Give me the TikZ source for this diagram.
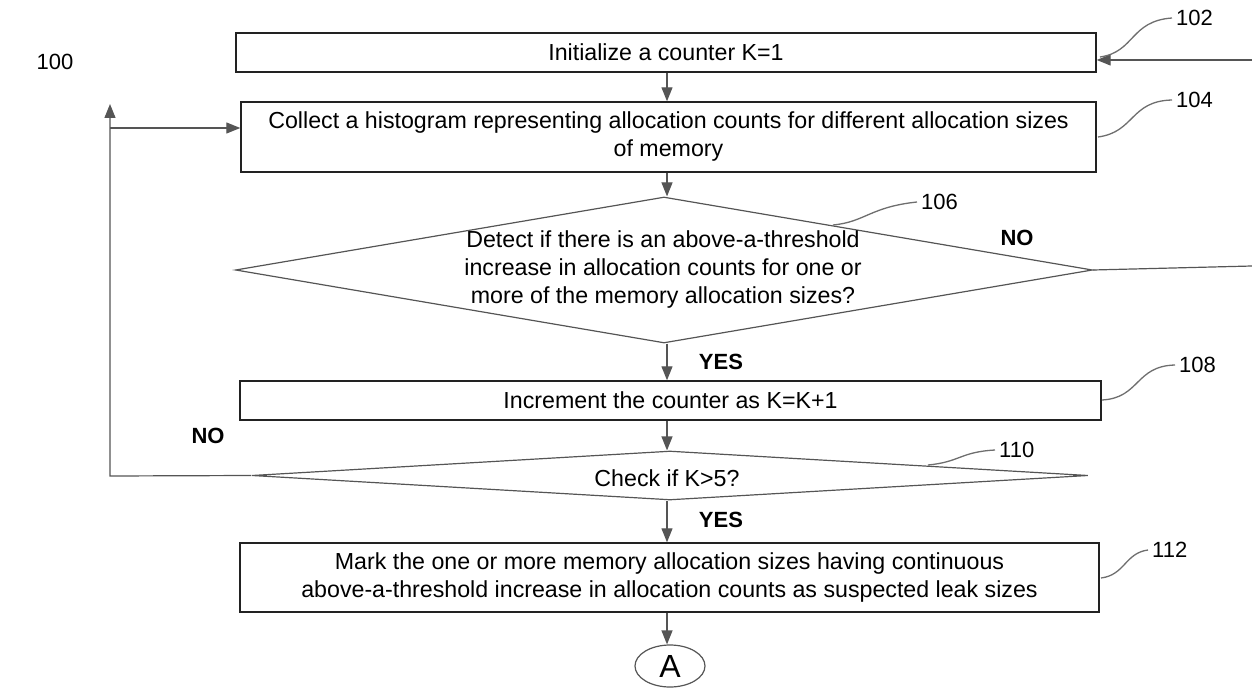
\documentclass[tikz,border=0pt]{standalone}
\usepackage{fontspec}
\setmainfont{Liberation Sans}
\usetikzlibrary{arrows.meta,shapes.geometric}
\definecolor{ln}{HTML}{555555}
\definecolor{bx}{HTML}{222222}
\tikzset{
  box/.style={draw=bx, line width=1.4pt, inner sep=0pt, align=center, font=\fontsize{23.2}{28}\selectfont},
  dia/.style={diamond, draw=ln, line width=1.2pt, inner sep=0pt},
  txt/.style={inner sep=0pt, align=center, font=\fontsize{23.2}{28}\selectfont},
  lbl/.style={inner sep=0pt, anchor=west, font=\fontsize{22}{26}\selectfont},
  yn/.style={inner sep=0pt, font=\fontsize{22}{26}\selectfont\bfseries},
  conn/.style={draw=ln, line width=1.2pt},
  arr/.style={conn, -{Triangle[length=14pt,width=11pt,fill=ln]}},
  leader/.style={draw=ln!85, line width=1.3pt},
}
\begin{document}
\begin{tikzpicture}[x=1pt,y=-1pt]
\useasboundingbox (0,0) rectangle (1252,700);
\coordinate (ax) at (667,0);

% boxes
\node[box, minimum width=860pt, minimum height=39pt] (b102) at (666,52.5) {Initialize a counter K=1};
\node[box, minimum width=855pt, minimum height=70pt] (b104) at (668.5,137) {Collect a histogram representing allocation counts for different allocation sizes\\of memory};
\node[dia, minimum width=857pt, minimum height=146pt] (d106) at (664,270) {};
\node[txt] (t106) at (663,270) {Detect if there is an above-a-threshold\\increase in allocation counts for one or\\more of the memory allocation sizes?};
\node[box, minimum width=861pt, minimum height=39pt] (b108) at (670.5,400.5) {Increment the counter as K=K+1};
\node[dia, minimum width=836pt, minimum height=49pt] (d110) at (670,475.5) {};
\node[txt] (t110) at (667,478) {Check if K>5?};
\node[box, minimum width=859pt, minimum height=69pt] (b112) at (669.5,577.5) {Mark the one or more memory allocation sizes having continuous\\above-a-threshold increase in allocation counts as suspected leak sizes};
\node[ellipse, draw=ln, line width=1.2pt, minimum width=70pt, minimum height=42pt, inner sep=0pt, font=\fontsize{32}{34}\selectfont] (A) at (670,666) {A};

% vertical connectors
\draw[arr] (b102.south -| ax) -- (b104.north -| ax);
\draw[arr] (b104.south -| ax) -- (d106.north -| ax);
\draw[arr] (d106.south -| ax) -- (b108.north -| ax);
\draw[arr] (b108.south -| ax) -- (d110.north -| ax);
\draw[arr] (d110.south -| ax) -- (b112.north -| ax);
\draw[arr] (b112.south -| ax) -- (A.north -| ax);

% NO loop from 110 back to 104
\coordinate (c1) at (110,476);
\coordinate (c2) at (110,104);
\coordinate (c3) at (110,128);
\draw[arr] (d110.west) -- (c1) -- (c2);
\draw[arr] (c3) -- (c3 -| b104.west);

% right side connectors
\coordinate (r1) at (1252,60);
\coordinate (r2) at (1252,266);
\draw[arr] (r1) -- (r1 -| b102.east);
\draw[conn] (d106.east) -- (r2);

% YES / NO labels
\node[yn] (no1) at (1017,238) {NO};
\node[yn] (yes1) at (721,362) {YES};
\node[yn] (no2) at (208,436) {NO};
\node[yn] (yes2) at (721,520) {YES};

% reference numerals
\node[txt, font=\fontsize{22}{26}\selectfont] (n100) at (55,62) {100};
\node[lbl] (n102) at (1176,18) {102};
\node[lbl] (n104) at (1176,100) {104};
\node[lbl] (n106) at (921,202) {106};
\node[lbl] (n108) at (1179,365) {108};
\node[lbl] (n110) at (999,450) {110};
\node[lbl] (n112) at (1152,550) {112};

\coordinate (s102) at (1100,57);
\coordinate (s104) at (1098,137);
\coordinate (s106) at (833,225);
\coordinate (s108) at (1102,400);
\coordinate (s110) at (928,465);
\coordinate (s112) at (1101,578);
\draw[leader] (s102) .. controls (1135,52) and (1130,21) .. ([xshift=-4pt]n102.west);
\draw[leader] (s104) .. controls (1135,132) and (1130,101) .. ([xshift=-4pt]n104.west);
\draw[leader] (s106) .. controls (865,222) and (870,207) .. ([xshift=-4pt]n106.west);
\draw[leader] (s108) .. controls (1140,398) and (1135,366) .. ([xshift=-4pt]n108.west);
\draw[leader] (s110) .. controls (960,462) and (960,452) .. ([xshift=-4pt]n110.west);
\draw[leader] (s112) .. controls (1125,575) and (1125,553) .. ([xshift=-4pt]n112.west);
\end{tikzpicture}
\end{document}
